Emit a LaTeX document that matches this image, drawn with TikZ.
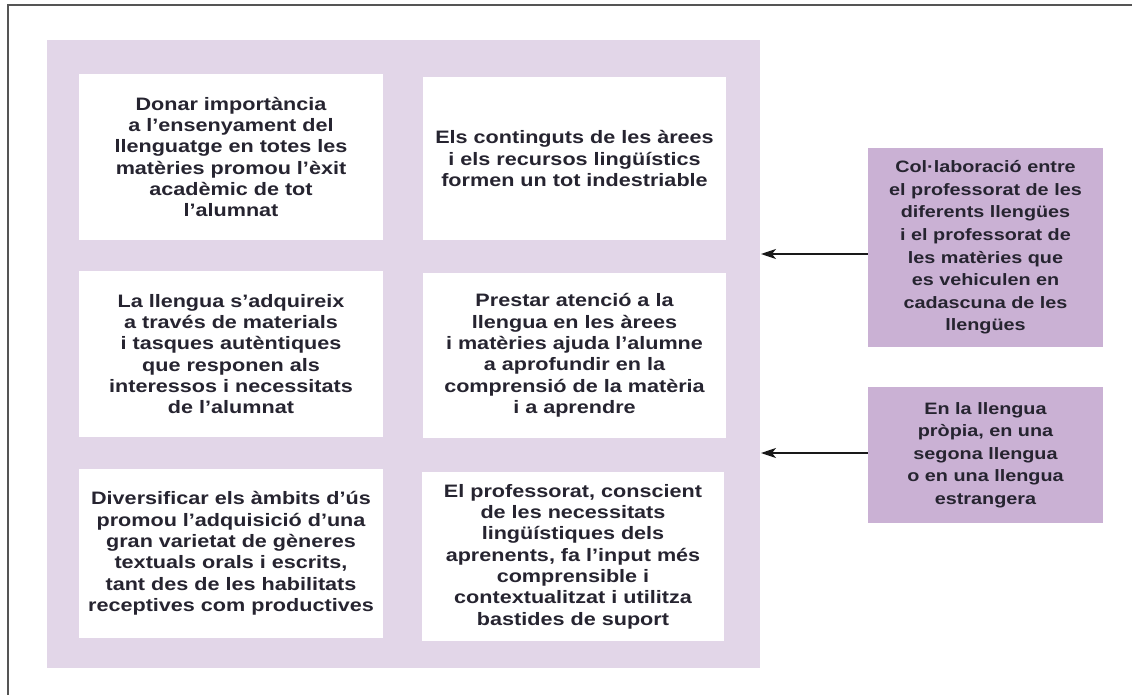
\documentclass[tikz,border=0pt]{standalone}
\usepackage{fontspec}
\setmainfont{Liberation Sans}
\newfontfamily\widefont[FakeStretch=1.2]{Liberation Sans}
\usetikzlibrary{arrows.meta}
\definecolor{panelcol}{RGB}{226,214,232}
\definecolor{sidecol}{RGB}{202,177,212}
\definecolor{txtcol}{RGB}{38,36,48}
\definecolor{framecol}{RGB}{85,85,85}
\tikzset{
  x=1pt, y=-1pt,
  panelbox/.style={fill=panelcol, draw=none, inner sep=0pt},
  wbox/.style={fill=white, draw=none, inner sep=0pt, align=center, text=txtcol,
    font=\widefont\bfseries\fontsize{18}{21.3}\selectfont},
  sidebox/.style={fill=sidecol, draw=none, inner sep=0pt, align=center, text=txtcol,
    minimum width=235pt, font=\widefont\bfseries\fontsize{16.5}{22.6}\selectfont},
  arrowline/.style={draw=black!90, line width=1.2pt, -{Stealth[length=15pt,width=10pt,inset=4pt]}},
  frameline/.style={draw=framecol, line width=1.4pt}
}
\begin{document}
\begin{tikzpicture}
\useasboundingbox (0,0) rectangle (1132,695);
\coordinate (frTL) at (8,5);
\coordinate (frTR) at (1132,5);
\coordinate (frBL) at (8,695);
\draw[frameline] (frTR) -- (frTL) -- (frBL);

\node[panelbox, minimum width=713pt, minimum height=628pt] (panel) at (403.5,354) {};

\node[wbox, minimum width=304pt, minimum height=166pt] (b1) at (231,157)
  {Donar importància\\a l’ensenyament del\\llenguatge en totes les\\matèries promou l’èxit\\acadèmic de tot\\l’alumnat};
\node[wbox, minimum width=303pt, minimum height=163pt] (b2) at (574.5,158.5)
  {Els continguts de les àrees\\i els recursos lingüístics\\formen un tot indestriable};
\node[wbox, minimum width=304pt, minimum height=166pt] (b3) at (231,354)
  {La llengua s’adquireix\\a través de materials\\i tasques autèntiques\\que responen als\\interessos i necessitats\\de l’alumnat};
\node[wbox, minimum width=303pt, minimum height=165pt] (b4) at (574.5,355.5)
  {Prestar atenció a la\\llengua en les àrees\\i matèries ajuda l’alumne\\a aprofundir en la\\comprensió de la matèria\\i a aprendre};
\node[wbox, minimum width=304pt, minimum height=169pt] (b5) at (231,553.5)
  {Diversificar els àmbits d’ús\\promou l’adquisició d’una\\gran varietat de gèneres\\textuals orals i escrits,\\tant des de les habilitats\\receptives com productives};
\node[wbox, minimum width=302pt, minimum height=169pt] (b6) at (573,556.5)
  {El professorat, conscient\\de les necessitats\\lingüístiques dels\\aprenents, fa l’input més\\comprensible i\\contextualitzat i utilitza\\bastides de suport};

\node[sidebox, minimum height=199pt] (sa) at (985.5,247.5)
  {Col·laboració entre\\el professorat de les\\diferents llengües\\i el professorat de\\les matèries que\\es vehiculen en\\cadascuna de les\\llengües};
\node[sidebox, minimum height=136pt] (sb) at (985.5,455)
  {En la llengua\\pròpia, en una\\segona llengua\\o en una llengua\\estrangera};

\coordinate (tipA) at (761,254);
\coordinate (tipB) at (761,453);
\draw[arrowline] (sa.west |- tipA) -- (tipA);
\draw[arrowline] (sb.west |- tipB) -- (tipB);
\end{tikzpicture}
\end{document}
